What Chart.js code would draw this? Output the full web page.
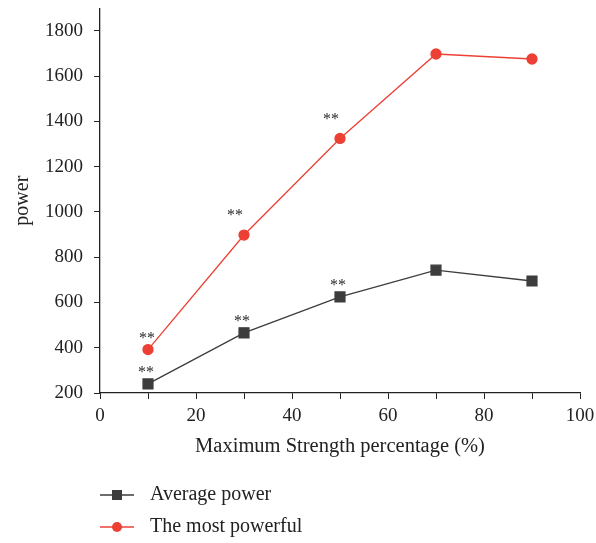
<!DOCTYPE html>
<html>
<head>
<meta charset="utf-8">
<script src="https://cdn.jsdelivr.net/npm/chart.js@4.4.1/dist/chart.umd.min.js"></script>
<style>
  html, body { margin: 0; padding: 0; background: #fff; }
  #wrap { width: 596px; height: 543px; }
</style>
</head>
<body>
<div id="wrap"><canvas id="chart"></canvas></div>
<script>
const strengthPct = [10, 30, 50, 70, 90];
const averagePower = [240, 466, 625, 743, 695];
const mostPowerful = [392, 898, 1325, 1698, 1676];
// points carrying the "**" significance mark (index into the series)
const markedAverage = [0, 1, 2];
const markedMost = [0, 1, 2];

const FONT = "'Liberation Serif', 'Times New Roman', serif";
const RED = '#ec4035';
const DARK = '#3d3d3d';

const toXY = (ys) => ys.map((y, i) => ({ x: strengthPct[i], y }));

const starPlugin = {
  id: 'stars',
  afterDatasetsDraw(chart) {
    const ctx = chart.ctx;
    ctx.save();
    ctx.fillStyle = '#2a2a2a';
    ctx.font = "16px " + FONT;
    ctx.textAlign = 'center';
    ctx.textBaseline = 'middle';
    const marks = [[0, markedAverage, -2, -11], [1, markedMost, -1, -11]];
    marks.forEach(([ds, idxs, dx, dy]) => {
      const meta = chart.getDatasetMeta(ds);
      idxs.forEach(i => {
        const p = meta.data[i];
        // the steep red segments push the marks up and to the left
        const extra = ds === 1 && i > 0 ? -8 : 0;
        ctx.fillText('**', p.x + dx + extra, p.y + dy + extra);
      });
    });
    ctx.restore();
  }
};

const legendPlugin = {
  id: 'sideLegend',
  afterDraw(chart) {
    const ctx = chart.ctx;
    const left = chart.chartArea.left;
    const rows = [495, 527];
    ctx.save();
    chart.data.datasets.forEach((ds, i) => {
      const y = rows[i];
      ctx.strokeStyle = ds.borderColor;
      ctx.lineWidth = 1.3;
      ctx.beginPath();
      ctx.moveTo(left, y);
      ctx.lineTo(left + 34, y);
      ctx.stroke();
      ctx.fillStyle = ds.pointBackgroundColor;
      if (ds.pointStyle === 'rect') {
        ctx.fillRect(left + 12, y - 5, 10, 10);
      } else {
        ctx.beginPath();
        ctx.arc(left + 17, y, 5, 0, Math.PI * 2);
        ctx.fill();
      }
      ctx.fillStyle = '#222';
      ctx.font = "20px " + FONT;
      ctx.textAlign = 'left';
      ctx.textBaseline = 'middle';
      ctx.fillText(ds.label, left + 50, y);
    });
    ctx.restore();
  }
};

new Chart(document.getElementById('chart'), {
  type: 'line',
  data: {
    datasets: [
      {
        label: 'Average power',
        data: toXY(averagePower),
        borderColor: DARK,
        backgroundColor: DARK,
        pointBackgroundColor: DARK,
        pointBorderColor: DARK,
        pointStyle: 'rect',
        pointRadius: 7,
        borderWidth: 1.3,
        tension: 0
      },
      {
        label: 'The most powerful',
        data: toXY(mostPowerful),
        borderColor: RED,
        backgroundColor: RED,
        pointBackgroundColor: RED,
        pointBorderColor: RED,
        pointStyle: 'circle',
        pointRadius: 5,
        borderWidth: 1.3,
        tension: 0
      }
    ]
  },
  options: {
    responsive: true,
    maintainAspectRatio: false,
    animation: false,
    layout: { padding: { left: 0, right: 16, top: 7, bottom: 80 } },
    plugins: {
      legend: { display: false },
      tooltip: { enabled: false }
    },
    scales: {
      x: {
        type: 'linear',
        min: 0,
        max: 100,
        afterFit(scale) {
          scale.height = 70;
          scale.paddingLeft = 0;
          scale.paddingRight = 0;
        },
        border: { color: '#222', width: 1.3 },
        grid: { drawOnChartArea: false, drawTicks: true, tickLength: 6, color: '#222' },
        ticks: {
          stepSize: 10,
          padding: 6,
          color: '#222',
          font: { family: FONT, size: 19 },
          callback: v => (v % 20 === 0 ? v : '')
        },
        title: {
          display: true,
          text: 'Maximum Strength percentage (%)',
          color: '#222',
          font: { family: FONT, size: 20.5 },
          padding: { top: 2, bottom: 4 }
        }
      },
      y: {
        min: 200,
        max: 1900,
        afterFit(scale) {
          scale.width = 100;
          scale.paddingTop = 0;
          scale.paddingBottom = 0;
        },
        border: { color: '#222', width: 1.3 },
        grid: { drawOnChartArea: false, drawTicks: true, tickLength: 6, color: '#222' },
        ticks: {
          stepSize: 100,
          padding: 11,
          color: '#222',
          font: { family: FONT, size: 19 },
          callback: v => (v % 200 === 0 ? v : '')
        },
        title: {
          display: true,
          text: 'power',
          color: '#222',
          font: { family: FONT, size: 20 },
          padding: { top: 11, bottom: 4 }
        }
      }
    }
  },
  plugins: [starPlugin, legendPlugin]
});
</script>
</body>
</html>
